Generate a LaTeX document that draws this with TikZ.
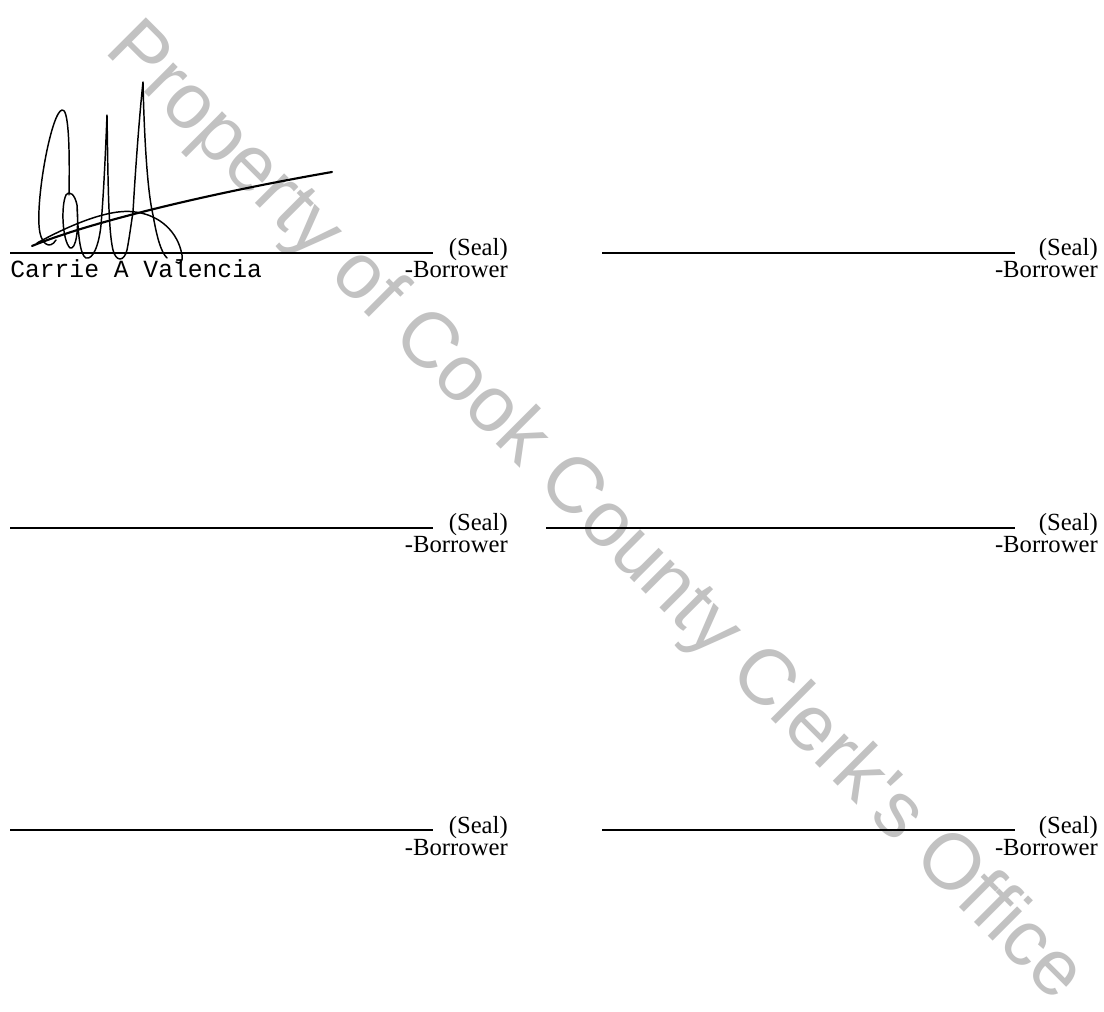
\documentclass[tikz,border=0pt]{standalone}
\usepackage{fontspec}
\setmainfont{Liberation Serif}
\newfontfamily\wmfont{Liberation Sans}
\newfontfamily\sigmono{Liberation Mono}
\begin{document}
\begin{tikzpicture}[x=0.75pt,y=-0.75pt,
  rule/.style={line width=0.8pt},
  lbl/.style={inner sep=0pt,anchor=base east,font=\fontsize{18.5}{20}\selectfont},
  ink/.style={line width=1.1pt,line cap=round,line join=round},
  wm/.style={inner sep=0pt,anchor=base west,text=black!24,font=\wmfont\fontsize{59}{61}\selectfont}]
\useasboundingbox[fill=white] (0,0) rectangle (1104,1012);
% watermark
\node[wm,rotate=-45] (wmark) at (103,51) {Property of Cook County Clerk's Office};
% row 1
\coordinate (l1a) at (10,253); \coordinate (l1b) at (433,253);
\coordinate (r1a) at (602,253); \coordinate (r1b) at (1015,253);
\draw[rule] (l1a) -- (l1b);
\draw[rule] (r1a) -- (r1b);
\node[lbl] (s1l) at (508,256) {(Seal)};
\node[lbl] (b1l) at (508,278) {-Borrower};
\node[lbl] (s1r) at (1098,256) {(Seal)};
\node[lbl] (b1r) at (1098,278) {-Borrower};
\node[inner sep=0pt,anchor=base west,font=\sigmono\fontsize{18.5}{20}\selectfont] (name) at (10,278) {Carrie A Valencia};
% row 2
\coordinate (l2a) at (10,528); \coordinate (l2b) at (433,528);
\coordinate (r2a) at (546,528); \coordinate (r2b) at (1015,528);
\draw[rule] (l2a) -- (l2b);
\draw[rule] (r2a) -- (r2b);
\node[lbl] (s2l) at (508,531) {(Seal)};
\node[lbl] (b2l) at (508,553) {-Borrower};
\node[lbl] (s2r) at (1098,531) {(Seal)};
\node[lbl] (b2r) at (1098,553) {-Borrower};
% row 3
\coordinate (l3a) at (10,830); \coordinate (l3b) at (433,830);
\coordinate (r3a) at (602,830); \coordinate (r3b) at (1015,830);
\draw[rule] (l3a) -- (l3b);
\draw[rule] (r3a) -- (r3b);
\node[lbl] (s3l) at (508,833) {(Seal)};
\node[lbl] (b3l) at (508,855) {-Borrower};
\node[lbl] (s3r) at (1098,833) {(Seal)};
\node[lbl] (b3r) at (1098,855) {-Borrower};
% signature
\draw[ink] (69,195) .. controls (70,140) and (68,108) .. (62,110)
  .. controls (52,112) and (37,190) .. (39,225)
  .. controls (40,245) and (50,250) .. (56,240);
\draw[ink] (77,205) .. controls (75,195) and (70,190) .. (66,195)
  .. controls (61,205) and (62,240) .. (70,248)
  .. controls (76,250) and (79,230) .. (77,205)
  .. controls (78,235) and (80,255) .. (86,258)
  .. controls (93,260) and (99,245) .. (101,225)
  .. controls (104,190) and (106,140) .. (107,115)
  .. controls (108,170) and (108,230) .. (113,250)
  .. controls (116,262) and (124,262) .. (127,250)
  .. controls (129,240) and (131,225) .. (133,212)
  .. controls (136,160) and (140,110) .. (143,82)
  .. controls (144,130) and (147,190) .. (153,215)
  .. controls (157,238) and (161,252) .. (167,258);
\draw[ink] (37,243) .. controls (70,225) and (110,208) .. (135,212)
  .. controls (160,215) and (178,232) .. (182,255)
  .. controls (183,262) and (180,265) .. (176,262);
\draw[line width=1.6pt,line cap=round] (32,246) .. controls (85,224) and (200,195) .. (332,172);
\end{tikzpicture}
\end{document}
